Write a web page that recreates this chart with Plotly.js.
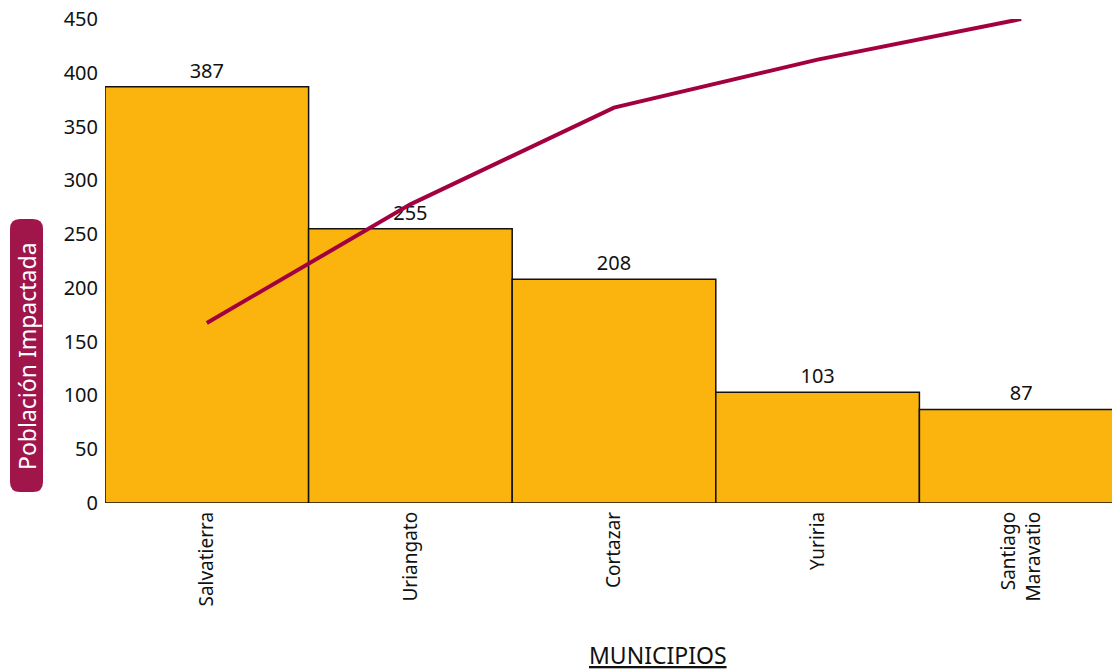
<!DOCTYPE html>
<html><head><meta charset="utf-8">
<script src="https://cdn.plot.ly/plotly-3.0.1.min.js"></script>
<style>body{margin:0;background:#fff}#c{width:1112px;height:671px}</style>
</head><body><div id="c"></div>
<script>
const municipios = ["Salvatierra", "Uriangato", "Cortazar", "Yuriria", "Santiago<br>Maravatio"];
const poblacion = [387, 255, 208, 103, 87];
const acumuladoPct = [37.2, 61.7, 81.7, 91.6, 100];

const W = 1112, H = 671, L = 105, R = 0, T = 19, B = 168;
const pw = W - L - R, ph = H - T - B;
const px = x => (x - L) / pw;
const py = y => (H - B - y) / ph;

const font = "'Noto Sans', 'DejaVu Sans', sans-serif";

const traces = [
  {type: 'bar', x: municipios, y: poblacion, text: poblacion.map(String),
   textposition: 'outside', cliponaxis: false,
   textfont: {family: font, size: 20, color: '#111'},
   marker: {color: '#FBB40E', line: {color: '#111', width: 1.5}}, hoverinfo: 'x+y'},
  {type: 'scatter', mode: 'lines', x: municipios, y: acumuladoPct, yaxis: 'y2',
   line: {color: '#A30040', width: 4}}
];

// rounded rect for y title
const x0 = px(10), x1 = px(43), y0 = py(492), y1 = py(219);
const rx = 10 / pw, ry = 10 / ph;
const pathStr = `M ${x0 + rx} ${y0} L ${x1 - rx} ${y0} Q ${x1} ${y0} ${x1} ${y0 + ry} L ${x1} ${y1 - ry} Q ${x1} ${y1} ${x1 - rx} ${y1} L ${x0 + rx} ${y1} Q ${x0} ${y1} ${x0} ${y1 - ry} L ${x0} ${y0 + ry} Q ${x0} ${y0} ${x0 + rx} ${y0} Z`;

const layout = {
  width: W, height: H,
  margin: {l: L, r: R, t: T, b: B},
  paper_bgcolor: '#fff', plot_bgcolor: 'rgba(0,0,0,0)',
  showlegend: false, bargap: 0,
  font: {family: font, color: '#111'},
  xaxis: {range: [-0.5, 4.446], tickangle: -90, showgrid: false, zeroline: false,
          showline: false, ticks: '', ticklabelstandoff: 4, tickfont: {family: font, size: 19, color: '#111'}},
  yaxis: {range: [0, 450], dtick: 50, showgrid: false, zeroline: false, showline: false,
          ticks: '', ticklabelstandoff: 6, tickfont: {family: font, size: 20, color: '#111'}},
  yaxis2: {range: [0, 100], overlaying: 'y', side: 'right', visible: false},
  shapes: [{type: 'path', xref: 'paper', yref: 'paper', path: pathStr,
            fillcolor: '#A0154A', line: {width: 0}, layer: 'below'}],
  annotations: [
    {xref: 'paper', yref: 'paper', x: px(27), y: py(356), xanchor: 'center', yanchor: 'middle',
     text: 'Población Impactada', textangle: -90, showarrow: false,
     font: {family: font, size: 23, color: '#fff'}},
    {xref: 'paper', yref: 'paper', x: px(658), y: py(655), xanchor: 'center', yanchor: 'middle',
     text: '<u>MUNICIPIOS</u>', showarrow: false, font: {family: font, size: 23, color: '#111'}}
  ]
};
Plotly.newPlot('c', traces, layout, {displayModeBar: false, staticPlot: true});
</script></body></html>
